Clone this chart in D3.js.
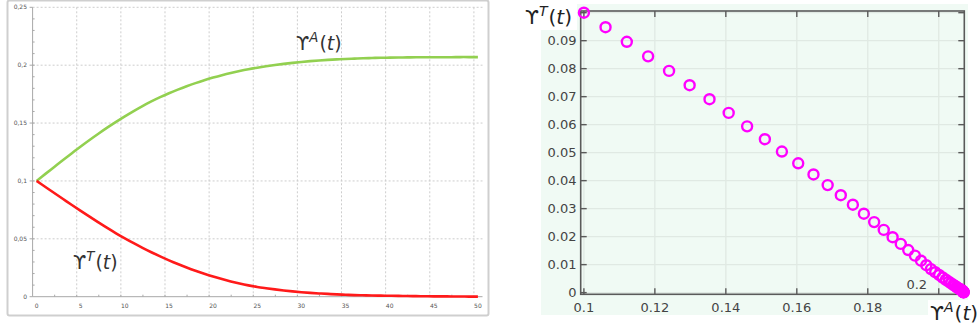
<!DOCTYPE html>
<html>
<head>
<meta charset="utf-8">
<script src="https://cdn.jsdelivr.net/npm/d3@7"></script>
<style>
  html, body { margin: 0; padding: 0; background: #ffffff; }
  svg { display: block; }
  .tk { font-family: "DejaVu Sans", sans-serif; }
  .sym { font-family: "DejaVu Sans", sans-serif; }
</style>
</head>
<body>
<svg id="chart" width="980" height="328"></svg>
<script>
// Time steps and the two solution components at each step
const time = [0,1,2,3,4,5,6,7,8,9,10,11,12,13,14,15,16,17,18,19,20,
  21,22,23,24,25,26,27,28,29,30,31,32,33,34,35,36,37,38,39,40,
  41,42,43,44,45,46,47,48,49,50];
const upsA = [0.1000,0.1061,0.1121,0.1181,0.1240,0.1298,0.1354,0.1408,0.1460,0.1510,
  0.1558,0.1604,0.1647,0.1687,0.1724,0.1758,0.1789,0.1818,0.1845,0.1870,
  0.1893,0.1914,0.1933,0.1950,0.1965,0.1978,0.1990,0.2001,0.2011,0.2020,
  0.2028,0.2035,0.2041,0.2046,0.2050,0.2054,0.2057,0.2060,0.2062,0.2064,
  0.2065,0.2066,0.2067,0.2068,0.2068,0.2069,0.2069,0.2069,0.2070,0.2070,0.2070];
const upsT = [0.1000,0.0948,0.0896,0.0844,0.0792,0.0741,0.0691,0.0642,0.0594,0.0548,
  0.0504,0.0462,0.0422,0.0384,0.0348,0.0314,0.0282,0.0252,0.0224,0.0198,
  0.0174,0.0152,0.0132,0.0114,0.0098,0.0084,0.0073,0.0063,0.0054,0.0046,
  0.0039,0.0033,0.0028,0.0024,0.0020,0.0017,0.0014,0.0012,0.0010,0.0009,
  0.0008,0.0007,0.0006,0.0005,0.0004,0.0003,0.0003,0.0002,0.0002,0.0001,0.0001];

// Axis ticks
const leftXTicks = [0,5,10,15,20,25,30,35,40,45,50];
const leftYTicks = [0,0.05,0.1,0.15,0.2,0.25];
const leftYLabels = ["0","0,05","0,1","0,15","0,2","0,25"];
const rightXTicks = [0.1,0.12,0.14,0.16,0.18,0.2];
const rightXLabels = ["0.1","0.12","0.14","0.16","0.18","0.2"];
const rightYTicks = [0,0.01,0.02,0.03,0.04,0.05,0.06,0.07,0.08,0.09,0.1];
const rightYLabels = ["0","0.01","0.02","0.03","0.04","0.05","0.06","0.07","0.08","0.09",""];

const svg = d3.select("#chart");

// ---------- Left panel: time series ----------
const L = svg.append("g");
L.append("rect").attr("x", 7.5).attr("y", 0.5).attr("width", 481).attr("height", 315)
  .attr("rx", 2).attr("fill", "#fff").attr("stroke", "#cfcfcf").attr("stroke-width", 2);

const xL = d3.scaleLinear().domain([0, 50]).range([36.6, 477.9]);
const yL = d3.scaleLinear().domain([0, 0.25]).range([296.7, 7.3]);
const gridShift = -4;   // grid and axis sit slightly left of the plotted samples

// dotted grid
L.append("g").selectAll("line").data(leftXTicks.filter(d => d > 0)).join("line")
  .attr("x1", d => xL(d) + gridShift).attr("x2", d => xL(d) + gridShift)
  .attr("y1", yL(0.25)).attr("y2", yL(0))
  .attr("stroke", "#cdcdcd").attr("stroke-width", 1).attr("stroke-dasharray", "2,2");
L.append("g").selectAll("line").data(leftYTicks.filter(d => d > 0)).join("line")
  .attr("x1", xL(0) + gridShift).attr("x2", 482.5)
  .attr("y1", d => yL(d)).attr("y2", d => yL(d))
  .attr("stroke", "#cdcdcd").attr("stroke-width", 1).attr("stroke-dasharray", "2,2");

// axis lines
L.append("line").attr("x1", xL(0) + gridShift).attr("x2", xL(0) + gridShift)
  .attr("y1", yL(0.25)).attr("y2", yL(0)).attr("stroke", "#a8a8a8").attr("stroke-width", 1);
L.append("line").attr("x1", xL(0) + gridShift).attr("x2", 482.5)
  .attr("y1", yL(0)).attr("y2", yL(0)).attr("stroke", "#a8a8a8").attr("stroke-width", 1);

// minor ticks
const yMinor = d3.range(1, 25).map(i => i / 100);
L.append("g").selectAll("line").data(yMinor).join("line")
  .attr("x1", xL(0) + gridShift).attr("x2", xL(0) + gridShift + 2)
  .attr("y1", d => yL(d)).attr("y2", d => yL(d)).attr("stroke", "#a8a8a8");
const xMinor = d3.range(1, 20).map(i => i * 2.5);
L.append("g").selectAll("line").data(xMinor).join("line")
  .attr("x1", d => xL(d) + gridShift).attr("x2", d => xL(d) + gridShift)
  .attr("y1", yL(0)).attr("y2", yL(0) - 2).attr("stroke", "#a8a8a8");
L.append("g").selectAll("line").data(leftYTicks).join("line")
  .attr("x1", xL(0) + gridShift - 3).attr("x2", xL(0) + gridShift)
  .attr("y1", d => yL(d)).attr("y2", d => yL(d)).attr("stroke", "#a8a8a8");

// tick labels
L.append("g").selectAll("text").data(leftYTicks).join("text")
  .attr("class", "tk").attr("x", 27).attr("y", d => yL(d) + 2)
  .attr("text-anchor", "end").attr("font-size", 6).attr("fill", "#555")
  .text((d, i) => leftYLabels[i]);
L.append("g").selectAll("text").data(leftXTicks).join("text")
  .attr("class", "tk").attr("x", d => xL(d)).attr("y", 307.5)
  .attr("text-anchor", "middle").attr("font-size", 6).attr("fill", "#555")
  .text(d => d);

// curves
const lineA = d3.line().x((d, i) => xL(time[i])).y(d => yL(d)).curve(d3.curveCatmullRom);
L.append("path").attr("d", lineA(upsA)).attr("fill", "none")
  .attr("stroke", "#92d050").attr("stroke-width", 2.6);
L.append("path").attr("d", lineA(upsT)).attr("fill", "none")
  .attr("stroke", "#ff1a1a").attr("stroke-width", 2.6);

// curve labels
function symLabel(g, x, y, size, sup, color) {
  const t = g.append("text").attr("class", "sym").attr("x", x).attr("y", y)
    .attr("font-size", size).attr("fill", color);
  t.append("tspan").text("\u03D2");
  t.append("tspan").attr("font-size", size * 0.7).attr("dy", -size * 0.4).attr("font-style", "italic").text(sup);
  t.append("tspan").attr("dy", size * 0.4).attr("dx", 1).text("(");
  t.append("tspan").attr("font-style", "italic").text("t");
  t.append("tspan").text(")");
  return t;
}
symLabel(L, 296, 50, 19, "A", "#333");
symLabel(L, 73, 269, 19, "T", "#333");

// ---------- Right panel: phase plot ----------
const R = svg.append("g");
R.append("rect").attr("x", 541).attr("y", 30).attr("width", 387).attr("height", 285).attr("fill", "#f0faf4");
R.append("rect").attr("x", 577).attr("y", 4).attr("width", 391).attr("height", 296).attr("fill", "#f0faf4");

const xR = d3.scaleLinear().domain([0.0991, 0.2072]).range([580.7, 964.3]);
const yR = d3.scaleLinear().domain([-0.0006, 0.1006]).range([294.3, 11]);

// faint grid
R.append("g").selectAll("line").data(rightXTicks).join("line")
  .attr("x1", d => xR(d)).attr("x2", d => xR(d)).attr("y1", yR.range()[0]).attr("y2", yR.range()[1])
  .attr("stroke", "#e0e9e3").attr("stroke-width", 1.3);
R.append("g").selectAll("line").data(rightYTicks).join("line")
  .attr("x1", xR.range()[0]).attr("x2", xR.range()[1]).attr("y1", d => yR(d)).attr("y2", d => yR(d))
  .attr("stroke", "#e0e9e3").attr("stroke-width", 1.3);

// frame
R.append("rect").attr("x", xR.range()[0]).attr("y", yR.range()[1])
  .attr("width", xR.range()[1] - xR.range()[0]).attr("height", yR.range()[0] - yR.range()[1])
  .attr("fill", "none").attr("stroke", "#5a5a5a").attr("stroke-width", 1.6);

// inward ticks on all four sides
const tl = 6;
R.append("g").selectAll("line").data(rightXTicks).join("line")
  .attr("x1", d => xR(d)).attr("x2", d => xR(d)).attr("y1", yR.range()[0]).attr("y2", yR.range()[0] - tl)
  .attr("stroke", "#5a5a5a").attr("stroke-width", 1.4);
R.append("g").selectAll("line").data(rightXTicks).join("line")
  .attr("x1", d => xR(d)).attr("x2", d => xR(d)).attr("y1", yR.range()[1]).attr("y2", yR.range()[1] + tl)
  .attr("stroke", "#5a5a5a").attr("stroke-width", 1.4);
R.append("g").selectAll("line").data(rightYTicks).join("line")
  .attr("x1", xR.range()[0]).attr("x2", xR.range()[0] + tl).attr("y1", d => yR(d)).attr("y2", d => yR(d))
  .attr("stroke", "#5a5a5a").attr("stroke-width", 1.4);
R.append("g").selectAll("line").data(rightYTicks).join("line")
  .attr("x1", xR.range()[1]).attr("x2", xR.range()[1] - tl).attr("y1", d => yR(d)).attr("y2", d => yR(d))
  .attr("stroke", "#5a5a5a").attr("stroke-width", 1.4);

// tick labels
R.append("g").selectAll("text").data(rightYTicks).join("text")
  .attr("class", "tk").attr("x", 576.5).attr("y", d => yR(d) + 4.5)
  .attr("text-anchor", "end").attr("font-size", 13).attr("fill", "#444")
  .text((d, i) => rightYLabels[i]);
R.append("g").selectAll("text").data(rightXTicks).join("text")
  .attr("class", "tk")
  .attr("x", (d, i) => i === rightXTicks.length - 1 ? xR(d) - 22 : xR(d))
  .attr("y", (d, i) => i === rightXTicks.length - 1 ? 289 : 312)
  .attr("text-anchor", "middle").attr("font-size", 13).attr("fill", "#444")
  .text((d, i) => rightXLabels[i]);

// points (ϒA(t), ϒT(t))
R.append("g").selectAll("circle").data(time).join("circle")
  .attr("cx", (d, i) => xR(upsA[i])).attr("cy", (d, i) => yR(upsT[i]))
  .attr("r", 5).attr("fill", "none").attr("stroke", "#ff00ff").attr("stroke-width", 2.4);

// axis titles
symLabel(R, 525, 24, 20, "T", "#222");
symLabel(R, 930, 320, 20, "A", "#222");
</script>
</body>
</html>
